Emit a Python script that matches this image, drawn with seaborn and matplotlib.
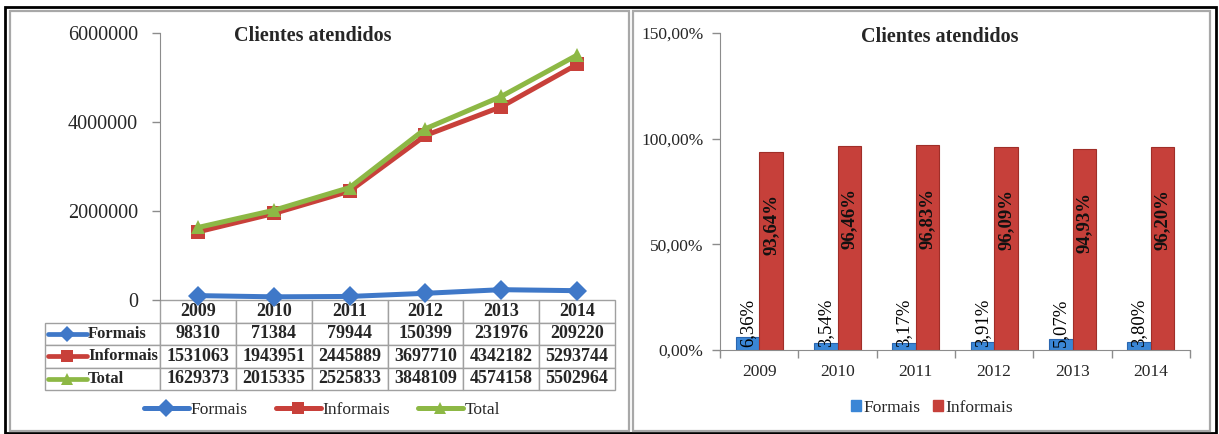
import numpy as np
import pandas as pd
import matplotlib
matplotlib.use("Agg")
import matplotlib.pyplot as plt
import seaborn as sns
from matplotlib.table import Table
from matplotlib.ticker import FuncFormatter, FixedLocator
from matplotlib.patches import Rectangle
from matplotlib.lines import Line2D

# ---------------- data ----------------
years = ["2009", "2010", "2011", "2012", "2013", "2014"]
formais = [98310, 71384, 79944, 150399, 231976, 209220]
informais = [1531063, 1943951, 2445889, 3697710, 4342182, 5293744]
total = [1629373, 2015335, 2525833, 3848109, 4574158, 5502964]
pct_formais = [6.36, 3.54, 3.17, 3.91, 5.07, 3.80]
pct_informais = [93.64, 96.46, 96.83, 96.09, 94.93, 96.20]
series_names = ["Formais", "Informais", "Total"]
left_yticks = [0, 2000000, 4000000, 6000000]
right_yticks = [0, 50, 100, 150]
chart_title = "Clientes atendidos"

# ---------------- style ----------------
sns.set_style("white")
plt.rcParams['font.family'] = ['Liberation Serif', 'DejaVu Serif']

BLUE = "#3F78C8"
RED = "#C8403A"
GREEN = "#8DB845"
BAR_BLUE = "#3A86D6"
BAR_RED = "#C6403A"
GRAY = "#8C8C8C"

W, H = 1219, 434
fig = plt.figure(figsize=(W / 100, H / 100), dpi=100)


def fx(p):
    return p / W


def fy(p):
    return 1 - p / H


def frame(x0, y0, x1, y1, color, lw):
    fig.patches.append(Rectangle((fx(x0), fy(y1)), fx(x1) - fx(x0), fy(y0) - fy(y1),
                                 transform=fig.transFigure, fill=False,
                                 edgecolor=color, lw=lw, zorder=0))


frame(5, 7, 1216, 433, "black", 2.0)
frame(10, 11, 629, 431, "#A8A8A8", 1.6)
frame(633, 11, 1210, 431, "#A8A8A8", 1.6)

# ---------------- left chart ----------------
axL = fig.add_axes([fx(160), fy(300), fx(615) - fx(160), fy(33) - fy(300)])
df = pd.DataFrame({
    "Ano": years * 3,
    "Clientes": formais + informais + total,
    "Serie": sum([[s] * len(years) for s in series_names], []),
})
palette = {"Formais": BLUE, "Informais": RED, "Total": GREEN}
markers = {"Formais": "D", "Informais": "s", "Total": "^"}
sns.lineplot(data=df, x="Ano", y="Clientes", hue="Serie", style="Serie",
             hue_order=series_names, style_order=series_names,
             palette=palette, markers=markers, dashes=False,
             lw=3.6, markersize=10, markeredgewidth=0, legend=False, ax=axL)
for ln in axL.lines:
    ln.set_clip_on(False)
axL.set_xlim(-0.5, 5.5)
axL.set_ylim(0, 6000000)
axL.set_yticks(left_yticks)
axL.set_yticklabels([str(v) for v in left_yticks], fontsize=14.5)
axL.set_xticks([])
axL.set_xlabel("")
axL.set_ylabel("")
for s in ["top", "right", "bottom"]:
    axL.spines[s].set_visible(False)
axL.spines["left"].set_color(GRAY)
axL.tick_params(axis="y", direction="out", length=6, width=1, color=GRAY, pad=10, left=True)
axL.text(0.335, 0.99, chart_title, transform=axL.transAxes, ha="center", va="center",
         fontsize=14.5, fontweight="bold")

# table below left chart
axW, axH = 455.0, 267.0
lab_w, col_w, row_h = 115.0, 455.0 / 6, 22.5
n_rows = 4
tbl = Table(axL, bbox=[-lab_w / axW, -n_rows * row_h / axH, (lab_w + 455.0) / axW, n_rows * row_h / axH])
edge = "#A0A0A0"
for j, yr in enumerate(years):
    c = tbl.add_cell(0, j + 1, width=col_w, height=row_h, text=yr, loc="center",
                     edgecolor=edge, facecolor="white")
    c.get_text().set_fontweight("bold")
rows_vals = [formais, informais, total]
for i, vals in enumerate(rows_vals):
    tbl.add_cell(i + 1, 0, width=lab_w, height=row_h, text="", edgecolor=edge, facecolor="white")
    for j, v in enumerate(vals):
        c = tbl.add_cell(i + 1, j + 1, width=col_w, height=row_h, text=str(v), loc="center",
                         edgecolor=edge, facecolor="white")
        c.get_text().set_fontweight("bold")
tbl.auto_set_font_size(False)
for c in tbl.get_celld().values():
    c.set_linewidth(1.0)
    c.get_text().set_fontsize(13)
axL.add_table(tbl)

# row labels with keys
for i, name in enumerate(series_names):
    yc = -((i + 1) * row_h + row_h / 2) / axH
    x0, x1 = (48 - 160) / axW, (87 - 160) / axW
    axL.plot([x0, (x0 + x1) / 2, x1], [yc, yc, yc], transform=axL.transAxes, clip_on=False,
             color=palette[name], lw=3.4, marker=markers[name], markevery=[1],
             markersize=8, markeredgewidth=0)
    axL.text((88 - 160) / axW, yc, name, transform=axL.transAxes, ha="left", va="center",
             fontsize=12, fontweight="bold")

# left legend
handlesL = [Line2D([0], [0], color=palette[n], lw=3.6, marker=markers[n], markersize=9,
                   markeredgewidth=0) for n in series_names]
fig.legend(handlesL, series_names, loc="center", bbox_to_anchor=(fx(322), fy(410)), ncol=3,
           frameon=False, prop={"family": "Liberation Serif", "size": 12.5},
           handlelength=2.6, handletextpad=0.1, columnspacing=1.6)

# ---------------- right chart ----------------
axR = fig.add_axes([fx(720), fy(350), fx(1190) - fx(720), fy(33) - fy(350)])
df2 = pd.DataFrame({
    "Ano": years * 2,
    "Valor": pct_formais + pct_informais,
    "Serie": ["Formais"] * len(years) + ["Informais"] * len(years),
})
sns.barplot(data=df2, x="Ano", y="Valor", hue="Serie", hue_order=["Formais", "Informais"],
            palette={"Formais": BAR_BLUE, "Informais": BAR_RED}, saturation=1, width=0.6,
            edgecolor="none", legend=False, ax=axR)
edge_cols = ["#2A66B0", "#A02E28"]
for k, cont in enumerate(axR.containers):
    for bar in cont:
        bar.set_edgecolor(edge_cols[k])
        bar.set_linewidth(0.8)
axR.set_xlim(-0.5, 5.5)
axR.set_ylim(0, 150)
axR.yaxis.set_major_locator(FixedLocator(right_yticks))
axR.yaxis.set_major_formatter(FuncFormatter(lambda v, p: f"{v:.2f}%".replace(".", ",")))
axR.set_xlabel("")
axR.set_ylabel("")
for s in ["top", "right"]:
    axR.spines[s].set_visible(False)
for s in ["left", "bottom"]:
    axR.spines[s].set_color(GRAY)
axR.tick_params(axis="y", direction="out", length=6, width=1, color=GRAY, pad=6,
                labelsize=12.5, left=True)
axR.tick_params(axis="x", which="major", length=0, pad=10, labelsize=12.5)
axR.set_xticks(np.arange(-0.5, 6.0, 1.0), minor=True)
axR.tick_params(axis="x", which="minor", direction="out", length=6, width=1, color=GRAY, bottom=True)

# bar labels
for k, cont in enumerate(axR.containers):
    for bar in cont:
        h = bar.get_height()
        xc = bar.get_x() + bar.get_width() / 2
        lab = f"{h:.2f}%".replace(".", ",")
        if k == 0:
            axR.text(xc, 1.2, lab, rotation=90, ha="center", va="bottom", fontsize=13.5,
                     color="black")
        else:
            axR.text(xc, h - 20, lab, rotation=90, ha="center", va="top", fontsize=13.5,
                     fontweight="bold", color="#111111")

axR.text(fx(940), fy(37), chart_title, transform=fig.transFigure, ha="center", va="center",
         fontsize=14.5, fontweight="bold")

handlesR = [Rectangle((0, 0), 1, 1, color=BAR_BLUE), Rectangle((0, 0), 1, 1, color=BAR_RED)]
fig.legend(handlesR, ["Formais", "Informais"], loc="center", bbox_to_anchor=(fx(932), fy(408)),
           ncol=2, frameon=False, prop={"family": "Liberation Serif", "size": 12.5},
           handlelength=0.6, handleheight=0.6, handletextpad=0.15, columnspacing=0.7)

fig.savefig("out.png", dpi=100)
